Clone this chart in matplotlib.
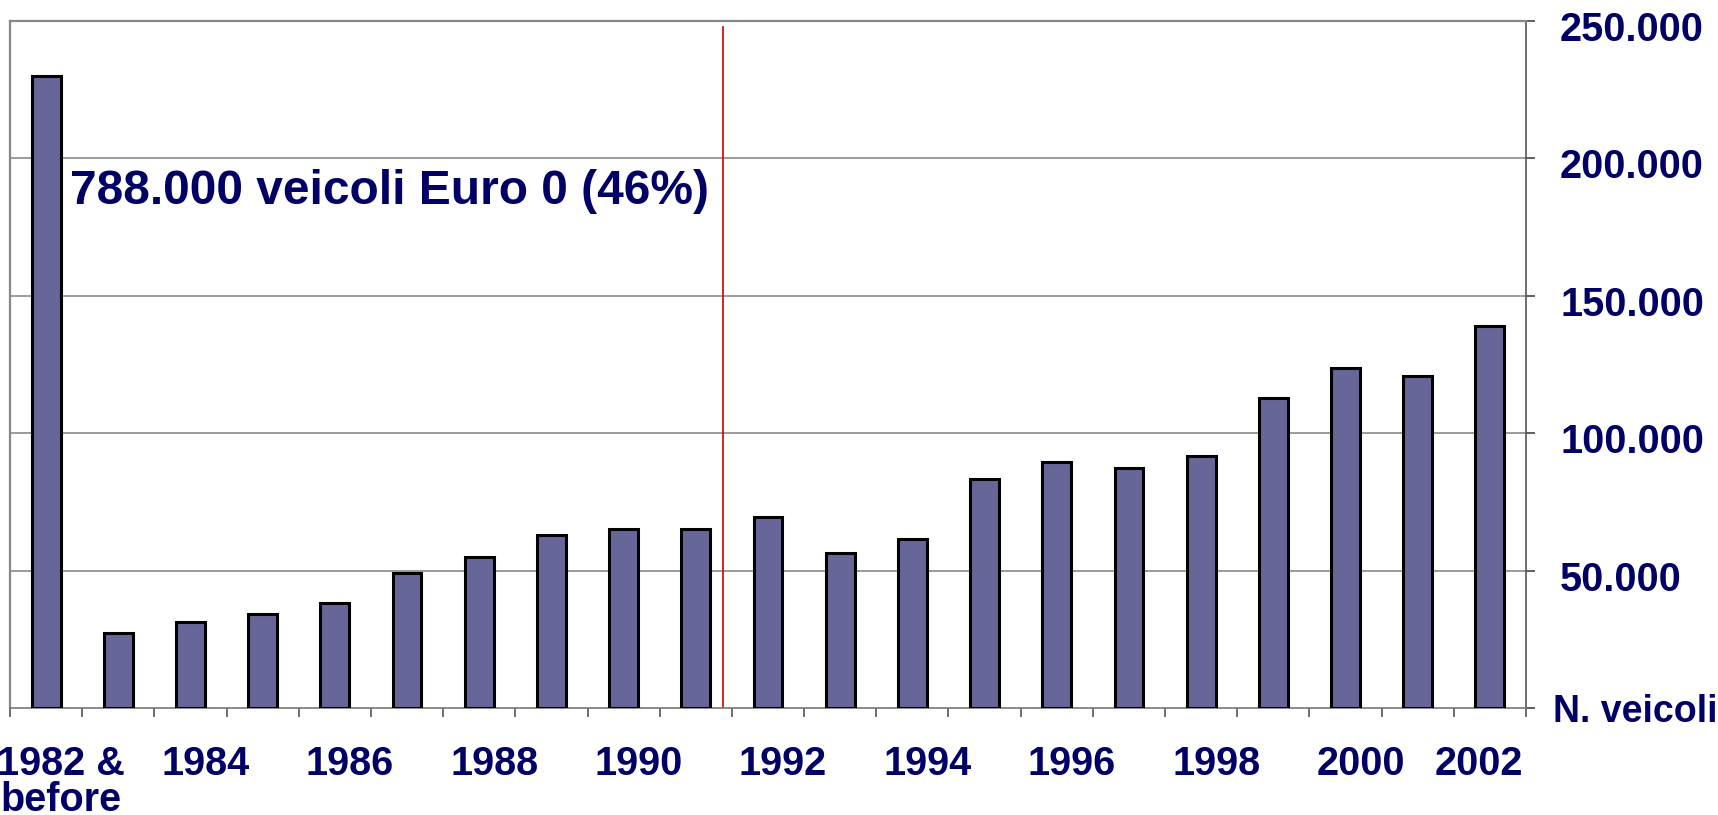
import matplotlib
matplotlib.use("Agg")
import matplotlib.pyplot as plt
import matplotlib.transforms as mtransforms
import numpy as np

plt.rcParams['font.family'] = ['Liberation Sans', 'DejaVu Sans']
plt.rcParams['font.weight'] = 'bold'

# registered vehicles by year of first registration
anni = ['1982 &\nbefore', '1983', '1984', '1985', '1986', '1987', '1988',
        '1989', '1990', '1991', '1992', '1993', '1994', '1995', '1996',
        '1997', '1998', '1999', '2000', '2001', '2002']
veicoli = [230000, 27200, 31300, 34200, 38100, 49200, 55100, 63100, 65300,
           65300, 69500, 56300, 61400, 83500, 89500, 87500, 91700, 112700,
           123800, 120800, 139000]
y_ticks = [0, 50000, 100000, 150000, 200000, 250000]
y_labels = ['N. veicoli', '50.000', '100.000', '150.000', '200.000', '250.000']
nota = '788.000 veicoli Euro 0 (46%)'
limite_euro0 = 9.38   # boundary marker between Euro 0 and later vehicles

navy = '#000066'
x = np.arange(len(anni))


def shift(label, dx, dy):
    # move a tick label by (dx, dy) pixels
    label.set_transform(label.get_transform() +
                        mtransforms.ScaledTranslation(dx/100, dy/100, fig.dpi_scale_trans))


fig = plt.figure(figsize=(17.18, 8.15), dpi=100)
ax = fig.add_axes([10/1718, 1 - 708/815, 1516/1718, 687/815])

ax.bar(x, veicoli, width=0.4, color='#666699', edgecolor='black',
       linewidth=2.2, zorder=3)
ax.set_xlim(-0.5, len(anni) - 0.5)
ax.set_ylim(0, 250000)

# horizontal grid
for v in y_ticks[1:-1]:
    ax.axhline(v, color='#808080', lw=1.1, zorder=1)

ax.axvline(limite_euro0, ymin=0, ymax=0.991, color='#cc0000', lw=1.2, zorder=2)

ax.text(0.33, 183500, nota, color=navy, fontsize=34.5, fontweight='bold',
        ha='left', va='baseline', zorder=4)

# y axis on the right
ax.yaxis.tick_right()
ax.set_yticks(y_ticks)
ax.set_yticklabels(y_labels)
ax.tick_params(axis='y', which='major', direction='out', length=6.5,
               width=1.2, color='#444444', pad=18, labelsize=28.5,
               labelcolor=navy)
ylabs = ax.get_yticklabels()
for lab in ylabs:
    lab.set_horizontalalignment('left')
    shift(lab, 0, -5)
ylabs[0].set_fontsize(27)
shift(ylabs[0], -7, 5)

# x axis: labels every other year, ticks at category boundaries
ax.set_xticks(x[::2])
ax.set_xticklabels([anni[i] for i in x[::2]])
ax.set_xticks(np.arange(-0.5, len(anni), 1), minor=True)
ax.tick_params(axis='x', which='major', length=0, pad=26.5, labelsize=28.5,
               labelcolor=navy)
ax.tick_params(axis='x', which='minor', direction='out', length=6.5,
               width=1.2, color='#555555')
xlabs = ax.get_xticklabels()
for i, lab in enumerate(xlabs):
    lab.set_linespacing(0.95)
    shift(lab, -11 if i == len(xlabs) - 1 else 15, 0)

for side in ['top', 'left']:
    ax.spines[side].set_color('#888888')
    ax.spines[side].set_linewidth(1.6)
ax.spines['bottom'].set_color('#777777')
ax.spines['bottom'].set_linewidth(1.2)
ax.spines['right'].set_color('#555555')
ax.spines['right'].set_linewidth(1.2)

fig.savefig('out.png', dpi=100)
